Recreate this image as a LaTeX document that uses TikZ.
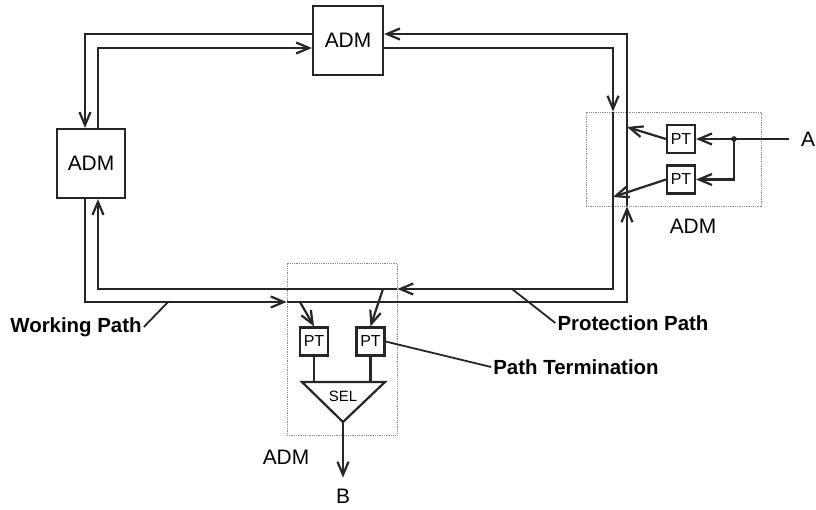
\documentclass[tikz,border=0pt]{standalone}
\usepackage{fontspec}
\setmainfont{Liberation Sans}
\usetikzlibrary{positioning, arrows.meta}

\begin{document}
\begin{tikzpicture}[x=1bp, y=-1bp,
  adm/.style={draw=black!85, line width=2.2bp, minimum width=70bp, minimum height=69bp, font=\fontsize{21}{24}\selectfont, inner sep=0pt},
  site/.style={draw=black!45, densely dotted, line width=0.8bp, inner sep=0pt},
  pt/.style={draw=black!85, line width=2.2bp, minimum size=28bp, inner sep=0pt, font=\fontsize{16}{18}\selectfont},
  ring/.style={draw=black!85, line width=2.2bp},
  feed/.style={ring, -{Straight Barb[length=13bp, width=11bp]}},
  lbl/.style={inner sep=2bp, font=\fontsize{20.5}{24}\selectfont\bfseries},
  tag/.style={inner sep=2bp, font=\fontsize{21}{24}\selectfont},
  lead/.style={black!85, line width=1.8bp}]
  \useasboundingbox (0,0) rectangle (816,510);
  % network elements
  \node[adm] (topADM) at (348,40.5) {ADM};
  \node[adm, minimum width=68bp] (leftADM) at (91,163.5) {ADM};
  \node[site, minimum width=175bp, minimum height=94bp] (rightADM) at (673.5,159) {};
  \node[site, minimum width=110bp, minimum height=172bp] (botADM) at (342,349) {};
  \node[tag] (rightTag) at (693,226) {ADM};
  \node[tag] (botTag) at (286,457) {ADM};
  % path terminations
  \node[pt] (ptA1) at (681,139) {PT};
  \node[pt] (ptA2) at (681,179.5) {PT};
  \node[pt] (ptB1) at (314,341.5) {PT};
  \node[pt] (ptB2) at (370.5,341.5) {PT};
  % selector
  \coordinate (selL) at (302,382);
  \coordinate (selR) at (385,382);
  \coordinate (selO) at (343,422);
  \draw[ring] (selL) -- (selR) -- (selO) -- cycle;
  \node[font=\fontsize{15}{18}\selectfont] (sel) at (343,396) {SEL};
  % ring corners
  \coordinate (oNW) at (85,34);  \coordinate (oNE) at (627,34);
  \coordinate (oSW) at (85,302); \coordinate (oSE) at (627,302);
  \coordinate (iNW) at (98,48);  \coordinate (iNE) at (613,48);
  \coordinate (iSW) at (98,289); \coordinate (iSE) at (613,289);
  % outer ring
  \draw[feed] (topADM.west |- oNW) -- (oNW) -- (leftADM.north -| oNW);
  \draw[feed] (leftADM.south -| oSW) -- (oSW) -- (botADM.west |- oSW);
  \draw[feed] (botADM.west |- oSW) -- (oSE) -- (rightADM.south -| oSE);
  \draw[feed] (rightADM.south -| oSE) -- (oNE) -- (topADM.east |- oNE);
  % inner ring
  \draw[feed] (topADM.east |- iNE) -- (iNE) -- (rightADM.north -| iNE);
  \draw[feed] (rightADM.north -| iNE) -- (iSE) -- (botADM.east |- iSE);
  \draw[feed] (botADM.east |- iSE) -- (iSW) -- (leftADM.south -| iSW);
  \draw[feed] (leftADM.north -| iNW) -- (iNW) -- (topADM.west |- iNW);
  % bottom site
  \coordinate (tapW) at (300,302); \coordinate (tapP) at (383,289);
  \draw[feed] (tapW) -- (ptB1.north);
  \draw[feed] (tapP) -- (ptB2.north);
  \draw[ring] (ptB1.south) -- (ptB1.south |- selL);
  \draw[ring] (ptB2.south) -- (ptB2.south |- selL);
  \node[tag] (B) at (343,496) {B};
  \draw[feed, shorten >=9bp] (selO) -- (B.north);
  % right site
  \node[tag] (A) at (808,139) {A};
  \coordinate (split) at (734,139);
  \fill[black!85] (split) circle (2.8bp);
  \draw[feed, shorten <=10bp] (A.west) -- (ptA1.east);
  \draw[feed] (split) |- (ptA2.east);
  \coordinate (joinP) at (627,127); \coordinate (joinW) at (613,197);
  \draw[feed] (ptA1.west) -- (joinP);
  \draw[feed] (ptA2.west) -- (joinW);
  % labels
  \node[lbl] (workLbl) at (76,327) {Working Path};
  \coordinate (workPt) at (168,302);
  \draw[lead] (workLbl.east) -- (workPt);
  \node[lbl] (protLbl) at (633,323) {Protection Path};
  \coordinate (protPt) at (512,289);
  \draw[lead] (protLbl.west) -- (protPt);
  \node[lbl] (termLbl) at (576,367) {Path Termination};
  \draw[lead] (ptB2.east) -- (termLbl.west);
\end{tikzpicture}
\end{document}
